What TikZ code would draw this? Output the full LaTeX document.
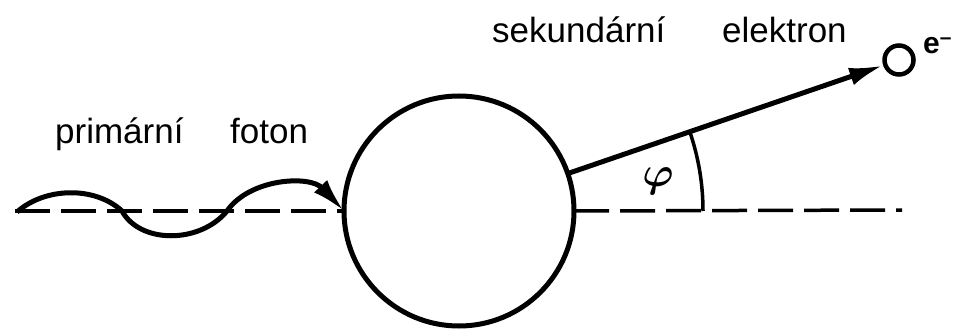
\documentclass[tikz,border=0pt]{standalone}
\usepackage{fontspec}
\setmainfont{Liberation Sans}
\usetikzlibrary{arrows.meta}
\begin{document}
\begin{tikzpicture}[x=1pt,y=-1pt,
  thickline/.style={line width=5pt},
  dashline/.style={line width=3.5pt, dash pattern=on 35pt off 11pt},
  lbl/.style={font=\fontsize{35}{40}\selectfont, inner sep=0pt, anchor=base west},
  tip/.style={-{Latex[length=34pt,width=18pt]}}
]
\useasboundingbox (0,0) rectangle (955,329);
\node[draw, circle, line width=5pt, minimum size=230pt, inner sep=0pt, outer sep=0pt] (atom) at (459,211) {};
\node[draw, circle, line width=4.5pt, minimum size=29pt, inner sep=0pt] (el) at (899,60) {};
\coordinate (L) at (15,211);
\coordinate (R) at (902,210);
\draw[dashline] (L) -- (atom.west);
\draw[dashline] (atom.east) -- (R);
\coordinate (w0) at (17,212);
\draw[thickline, tip] (w0) .. controls (45,187) and (95,186) .. (122,211)
  .. controls (140,244) and (200,244) .. (227,211)
  .. controls (250,178) and (310,175) .. (atom.west);
\draw[thickline, tip] (atom.19) -- (el);
\draw[line width=3.5pt] (atom.center) ++(244,0) arc[start angle=0, end angle=-19, radius=244];
\node[inner sep=0pt] (phi) at (658,181) {\scalebox{4.2}{\boldmath$\varphi$}};
\node[lbl] (t1) at (55,143) {primární};
\node[lbl] (t2) at (230,143) {foton};
\node[lbl] (t3) at (492,43) {sekundární};
\node[lbl] (t4) at (722,43) {elektron};
\node[font=\bfseries\fontsize{30}{30}\selectfont, inner sep=0pt, anchor=base west] (e) at (923,54) {e\textsuperscript{–}};
\end{tikzpicture}
\end{document}
